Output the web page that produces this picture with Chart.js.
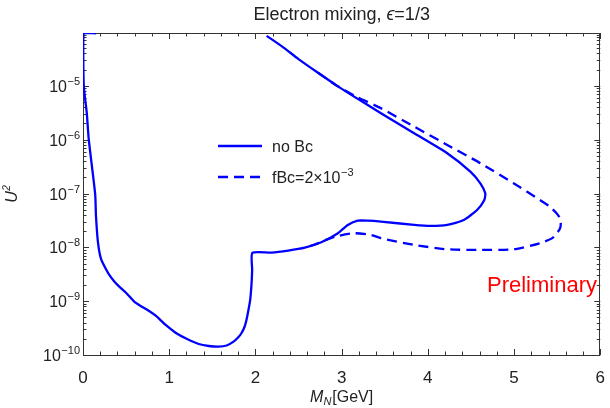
<!DOCTYPE html>
<html lang="en">
<head>
<meta charset="UTF-8" />
<title>Electron mixing</title>
<script src="https://cdn.jsdelivr.net/npm/chart.js"></script>
<style>
    html, body { margin: 0; padding: 0; background: #fff; }
    #caixa { width: 610px; height: 408px; }
</style>
</head>
<body>
<div id="caixa"><canvas id="grafico"></canvas></div>

<script>
    // contorno sem Bc (linha cheia), percorrido da esquerda-alto ate a ponta de cima
    const massaSemBc = [0.152, 0.006, 0.009, 0.044, 0.067, 0.141, 0.150, 0.161, 0.173, 0.190,
        0.213, 0.259, 0.305, 0.363, 0.421, 0.501, 0.594, 0.651, 0.767, 0.847,
        0.959, 1.074, 1.190, 1.343, 1.458, 1.573, 1.666, 1.746, 1.804, 1.839,
        1.873, 1.896, 1.919, 1.939, 1.954, 1.962, 1.965, 2.188, 2.380, 2.573,
        2.764, 2.957, 3.072, 3.187, 3.303, 3.456, 3.841, 4.032, 4.225, 4.417,
        4.571, 4.655, 4.666, 4.609, 4.493, 4.225, 3.841, 3.456, 3.187, 2.957,
        2.726, 2.496, 2.323, 2.130];
    const u2SemBc = [9.5e-5, 9.5e-5, 1.0e-5, 3.11e-6, 1.0e-6, 9.84e-8, 4.00e-8, 2.10e-8, 1.26e-8, 8.20e-9,
        5.83e-9, 4.14e-9, 3.07e-9, 2.32e-9, 1.86e-9, 1.42e-9, 9.80e-10, 8.50e-10, 6.58e-10, 5.31e-10,
        3.61e-10, 2.59e-10, 2.04e-10, 1.60e-10, 1.47e-10, 1.43e-10, 1.50e-10, 1.77e-10, 2.16e-10, 2.56e-10,
        3.31e-10, 4.48e-10, 6.86e-10, 1.05e-9, 2.00e-9, 3.80e-9, 7.87e-9, 7.98e-9, 8.69e-9, 9.86e-9,
        1.24e-8, 1.83e-8, 2.61e-8, 3.13e-8, 3.13e-8, 3.01e-8, 2.61e-8, 2.50e-8, 2.61e-8, 3.23e-8,
        4.95e-8, 7.60e-8, 1.01e-7, 1.55e-7, 2.55e-7, 5.61e-7, 1.32e-6, 3.11e-6, 5.73e-6, 9.8e-6,
        1.75e-5, 3.18e-5, 5.20e-5, 8.49e-5];

    // parte do contorno com fBc que se separa da linha cheia (tracejada)
    const massaComBc = [2.726, 2.957, 3.187, 3.456, 3.841, 4.225, 4.609, 4.994, 5.300, 5.412,
        5.493, 5.531, 5.542, 5.531, 5.447, 5.300, 4.994, 4.609, 4.225, 3.841,
        3.456, 3.341, 3.149, 2.957, 2.841, 2.688, 2.573];
    const u2ComBc = [1.75e-5, 9.8e-6, 6.11e-6, 3.85e-6, 1.75e-6, 8.0e-7, 3.66e-7, 1.55e-7, 7.60e-8, 5.75e-8,
        4.31e-8, 3.52e-8, 2.81e-8, 2.20e-8, 1.50e-8, 1.19e-8, 9.2e-9, 8.95e-9, 9.2e-9, 1.11e-8,
        1.48e-8, 1.70e-8, 1.83e-8, 1.63e-8, 1.42e-8, 1.13e-8, 9.86e-9];

    const legendas = ['no Bc', 'fBc=2×10'];
    const expoenteLegenda = '−3';
    const ticksX = [0, 1, 2, 3, 4, 5, 6];
    const expoentesY = [-10, -9, -8, -7, -6, -5];

    const AZUL = 'rgb(0, 0, 255)';
    const FONTE = '"Liberation Sans", Arial, sans-serif';

    function pontos(xs, ys) {
        return xs.map(function (x, i) { return { x: x, y: ys[i] }; });
    }

    // moldura e marcas para dentro, como no Mathematica
    const moldura = {
        id: 'moldura',
        beforeDatasetsDraw(chart) {
            const { ctx, chartArea: a, scales } = chart;
            const sx = scales.x, sy = scales.y;
            ctx.save();
            ctx.strokeStyle = '#333';
            ctx.lineWidth = 1;
            ctx.beginPath();
            for (let i = 0; i <= 30; i++) {
                const px = Math.round(sx.getPixelForValue(i / 5)) + 0.5;
                const len = i % 5 === 0 ? 6 : 3.5;
                ctx.moveTo(px, a.bottom); ctx.lineTo(px, a.bottom - len);
                ctx.moveTo(px, a.top); ctx.lineTo(px, a.top + len);
            }
            for (let e = -10; e <= -5; e++) {
                for (let k = 1; k <= 9; k++) {
                    const v = k * Math.pow(10, e);
                    if (v > sy.max) continue;
                    const py = Math.round(sy.getPixelForValue(v)) + 0.5;
                    const len = k === 1 ? 6 : 3.5;
                    ctx.moveTo(a.left, py); ctx.lineTo(a.left + len, py);
                    ctx.moveTo(a.right, py); ctx.lineTo(a.right - len, py);
                }
            }
            ctx.stroke();
            ctx.strokeRect(Math.round(a.left) + 0.5, Math.round(a.top) + 0.5,
                Math.round(a.right - a.left) - 1, Math.round(a.bottom - a.top));
            ctx.restore();
        },
        afterDraw(chart) {
            const { ctx, chartArea: a, scales } = chart;
            const sy = scales.y;
            ctx.save();
            ctx.fillStyle = '#222';
            ctx.textBaseline = 'alphabetic';

            // rotulos do eixo y: 10 com expoente
            expoentesY.forEach(function (e) {
                const py = sy.getPixelForValue(Math.pow(10, e));
                const exp = '−' + Math.abs(e);
                ctx.font = '11px ' + FONTE;
                const wExp = ctx.measureText(exp).width;
                const xFim = 80;
                ctx.textAlign = 'left';
                ctx.fillText(exp, xFim - wExp, py - 1);
                ctx.font = '16px ' + FONTE;
                ctx.textAlign = 'right';
                ctx.fillText('10', xFim - wExp - 0.5, py + 6);
            });

            // titulo
            const meio = (a.left + a.right) / 2;
            const partes = [
                ['Electron mixing, ', '18px ' + FONTE],
                ['ϵ', 'italic 18px ' + FONTE],
                ['=1/3', '18px ' + FONTE]
            ];
            let total = 0;
            partes.forEach(function (p) { ctx.font = p[1]; total += ctx.measureText(p[0]).width; });
            let cx = meio - total / 2;
            ctx.textAlign = 'left';
            partes.forEach(function (p) {
                ctx.font = p[1];
                ctx.fillText(p[0], cx, 20);
                cx += ctx.measureText(p[0]).width;
            });

            // titulo eixo x: M_N[GeV]
            ctx.font = 'italic 16px ' + FONTE;
            const wM = ctx.measureText('M').width;
            ctx.font = 'italic 11px ' + FONTE;
            const wN = ctx.measureText('N').width;
            ctx.font = '16px ' + FONTE;
            const wG = ctx.measureText('[GeV]').width;
            let tx = meio - (wM + wN + 1 + wG) / 2;
            ctx.font = 'italic 16px ' + FONTE;
            ctx.fillText('M', tx, 401.5);
            tx += wM;
            ctx.font = 'italic 11px ' + FONTE;
            ctx.fillText('N', tx, 405);
            tx += wN + 1;
            ctx.font = '16px ' + FONTE;
            ctx.fillText('[GeV]', tx, 401.5);

            // titulo eixo y: U^2 girado
            ctx.save();
            ctx.translate(17, 194);
            ctx.rotate(-Math.PI / 2);
            ctx.font = 'italic 16px ' + FONTE;
            const wU = ctx.measureText('U').width;
            ctx.fillText('U', -(wU + 6) / 2, 0);
            ctx.font = 'italic 10px ' + FONTE;
            ctx.fillText('2', -(wU + 6) / 2 + wU + 0.5, -7);
            ctx.restore();

            // legenda
            ctx.strokeStyle = AZUL;
            ctx.lineWidth = 2.3;
            ctx.beginPath();
            ctx.moveTo(218, 146); ctx.lineTo(262, 146);
            ctx.stroke();
            ctx.setLineDash([10, 6]);
            ctx.beginPath();
            ctx.moveTo(218, 177); ctx.lineTo(262, 177);
            ctx.stroke();
            ctx.setLineDash([]);
            ctx.font = '16px ' + FONTE;
            ctx.fillText(legendas[0], 272, 152);
            ctx.fillText(legendas[1], 272, 183);
            const wLeg = ctx.measureText(legendas[1]).width;
            ctx.font = '11px ' + FONTE;
            ctx.fillText(expoenteLegenda, 272 + wLeg + 0.5, 176);

            // aviso
            ctx.fillStyle = 'rgb(255, 0, 0)';
            ctx.font = '22px ' + FONTE;
            ctx.fillText('Preliminary', 487, 291.5);
            ctx.restore();
        }
    };

    const config = {
        type: 'scatter',
        data: {
            datasets: [
                {
                    label: legendas[0],
                    data: pontos(massaSemBc, u2SemBc),
                    showLine: true,
                    borderColor: AZUL,
                    borderWidth: 2.3,
                    pointRadius: 0,
                    tension: 0.2
                },
                {
                    label: 'fBc',
                    data: pontos(massaComBc, u2ComBc),
                    showLine: true,
                    borderColor: AZUL,
                    borderWidth: 2.3,
                    borderDash: [10, 6],
                    pointRadius: 0,
                    tension: 0.2
                }
            ]
        },
        options: {
            responsive: true,
            maintainAspectRatio: false,
            animation: false,
            layout: { padding: { left: 0, right: 6, top: 33, bottom: 0 } },
            plugins: {
                legend: { display: false },
                tooltip: { enabled: false }
            },
            scales: {
                x: {
                    type: 'linear',
                    min: 0,
                    max: 6,
                    grid: { display: false },
                    border: { display: false },
                    afterBuildTicks: function (scale) {
                        scale.ticks = ticksX.map(function (v) { return { value: v }; });
                    },
                    afterFit: function (scale) { scale.height = 53; },
                    ticks: {
                        color: '#222',
                        padding: 5,
                        maxRotation: 0,
                        font: { size: 17, family: FONTE }
                    }
                },
                y: {
                    type: 'logarithmic',
                    min: 1e-10,
                    max: 9.6e-5,
                    grid: { display: false },
                    border: { display: false },
                    afterFit: function (scale) { scale.width = 83; },
                    ticks: { display: false }
                }
            }
        },
        plugins: [moldura]
    };

    let meuGrafico = new Chart(document.getElementById('grafico'), config);
</script>
</body>
</html>
